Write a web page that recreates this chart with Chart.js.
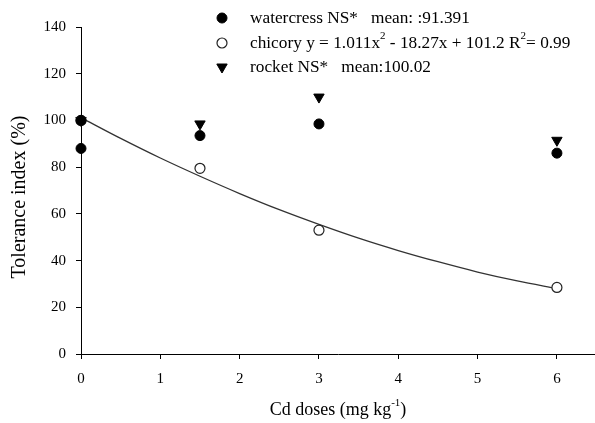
<!DOCTYPE html>
<html>
<head>
<meta charset="utf-8">
<script src="https://cdn.jsdelivr.net/npm/chart.js@4.4.1/dist/chart.umd.min.js"></script>
<style>
  html, body { margin: 0; padding: 0; background: #fff; }
  #wrap { width: 595px; height: 423px; }
</style>
</head>
<body>
<div id="wrap"><canvas id="c" width="595" height="423"></canvas></div>
<script>
// ---- data ----
const doses = [0, 1.5, 3, 6];
const watercressX = [0, 0, 1.5, 3, 6];
const watercressY = [100, 88, 93.5, 98.5, 86];
const chicoryY = [100, 79.5, 53, 28.5];
const rocketY = [100, 98.5, 110, 91.5];
const fitX = [0, 0.5, 1, 1.5, 2, 2.5, 3, 3.5, 4, 4.5, 5, 5.5, 6];
const fitY = [101.2, 92.3, 83.9, 76.1, 68.7, 61.8, 55.5, 49.6, 44.3, 39.5, 35.1, 31.3, 28.0];
const xTicks = [0, 1, 2, 3, 4, 5, 6];
const yTicks = [0, 20, 40, 60, 80, 100, 120, 140];
const legendLabels = [
  'watercress NS*   mean: :91.391',
  'chicory y = 1.011x² - 18.27x + 101.2 R²= 0.99',
  'rocket NS*   mean:100.02'
];
const xTitle = 'Cd doses (mg kg⁻¹)';
const yTitle = 'Tolerance index (%)';

const SERIF = '"Liberation Serif", "Times New Roman", serif';
const pts = (xs, ys) => xs.map((x, i) => ({ x: x, y: ys[i] }));

const styles = [
  { pointStyle: 'circle', radius: 5, backgroundColor: '#000', borderColor: '#000', borderWidth: 1, rotation: 0 },
  { pointStyle: 'circle', radius: 5, backgroundColor: '#fff', borderColor: '#222', borderWidth: 1.2, rotation: 0 },
  { pointStyle: 'triangle', radius: 6, backgroundColor: '#000', borderColor: '#000', borderWidth: 1, rotation: 180 }
];

const supMap = { '²': '2', '⁻': '-', '¹': '1' };
function drawRich(ctx, text, x, y, size) {
  let cx = x;
  let i = 0;
  while (i < text.length) {
    if (supMap[text[i]] !== undefined) {
      let s = '';
      while (i < text.length && supMap[text[i]] !== undefined) { s += supMap[text[i]]; i++; }
      ctx.font = Math.round(size * 0.62) + 'px ' + SERIF;
      ctx.fillText(s, cx, y - size * 0.38);
      cx += ctx.measureText(s).width;
    } else {
      let s = '';
      while (i < text.length && supMap[text[i]] === undefined) { s += text[i]; i++; }
      ctx.font = size + 'px ' + SERIF;
      ctx.fillText(s, cx, y);
      cx += ctx.measureText(s).width;
    }
  }
  return cx - x;
}
function richWidth(ctx, text, size) {
  let w = 0;
  for (const ch of text) {
    if (supMap[ch] !== undefined) { ctx.font = Math.round(size * 0.62) + 'px ' + SERIF; w += ctx.measureText(supMap[ch]).width; }
    else { ctx.font = size + 'px ' + SERIF; w += ctx.measureText(ch).width; }
  }
  return w;
}

const textPlugin = {
  id: 'textPlugin',
  afterDraw(chart) {
    const ctx = chart.ctx;
    const area = chart.chartArea;
    ctx.save();
    ctx.textBaseline = 'middle';
    ctx.textAlign = 'left';
    // legend
    const lx = 222, tx = 250, ly = [18, 43, 67];
    legendLabels.forEach((lab, i) => {
      const st = styles[i];
      ctx.fillStyle = st.backgroundColor;
      ctx.strokeStyle = st.borderColor;
      ctx.lineWidth = st.borderWidth;
      Chart.helpers.drawPoint(ctx, st, lx, ly[i]);
      ctx.fillStyle = '#000';
      drawRich(ctx, lab, tx, ly[i], 17.3);
    });
    // x title
    const xs = 18;
    const w = richWidth(ctx, xTitle, xs);
    ctx.fillStyle = '#000';
    drawRich(ctx, xTitle, (area.left + area.right) / 2 - w / 2, 410, xs);
    // y title
    ctx.translate(20, 197);
    ctx.rotate(-Math.PI / 2);
    ctx.textAlign = 'center';
    ctx.font = '20px ' + SERIF;
    ctx.fillText(yTitle, 0, 0);
    ctx.restore();
  }
};

const axisCommon = {
  grid: { display: true, drawOnChartArea: false, drawTicks: true, tickLength: 5, color: '#000', lineWidth: 1 },
  border: { display: true, color: '#000', width: 1 },
};

new Chart(document.getElementById('c'), {
  type: 'scatter',
  data: {
    datasets: [
      { label: 'watercress', data: pts(watercressX, watercressY), pointStyle: styles[0].pointStyle, pointRadius: styles[0].radius,
        pointBackgroundColor: styles[0].backgroundColor, pointBorderColor: styles[0].borderColor, pointBorderWidth: styles[0].borderWidth, showLine: false, clip: false },
      { label: 'chicory', data: pts(doses, chicoryY), pointStyle: styles[1].pointStyle, pointRadius: styles[1].radius,
        pointBackgroundColor: styles[1].backgroundColor, pointBorderColor: styles[1].borderColor, pointBorderWidth: styles[1].borderWidth, showLine: false, clip: false },
      { label: 'rocket', data: pts(doses, rocketY), pointStyle: styles[2].pointStyle, pointRadius: styles[2].radius, pointRotation: 180,
        pointBackgroundColor: styles[2].backgroundColor, pointBorderColor: styles[2].borderColor, pointBorderWidth: styles[2].borderWidth, showLine: false, clip: false },
      { label: 'fit', data: pts(fitX, fitY), showLine: true, pointRadius: 0, borderColor: '#333', borderWidth: 1.3,
        cubicInterpolationMode: 'monotone', fill: false, clip: false }
    ]
  },
  options: {
    responsive: false,
    animation: false,
    devicePixelRatio: 1,
    layout: { autoPadding: false, padding: { top: 27, right: 0, left: 0, bottom: 0 } },
    plugins: { legend: { display: false }, tooltip: { enabled: false } },
    scales: {
      x: Object.assign({}, axisCommon, {
        type: 'linear', min: 0, max: 6.48,
        afterBuildTicks(scale) { scale.ticks = xTicks.map(v => ({ value: v })); },
        afterFit(scale) { scale.height = 69; scale.paddingRight = 0; scale.paddingLeft = 0; },
        ticks: { color: '#000', font: { family: SERIF, size: 15 }, padding: 11, maxRotation: 0, autoSkip: false }
      }),
      y: Object.assign({}, axisCommon, {
        type: 'linear', min: 0, max: 140,
        afterBuildTicks(scale) { scale.ticks = yTicks.map(v => ({ value: v })); },
        afterFit(scale) { scale.width = 81; scale.paddingTop = 0; scale.paddingBottom = 0; },
        ticks: { color: '#000', font: { family: SERIF, size: 15 }, padding: 10 }
      })
    }
  },
  plugins: [textPlugin]
});
</script>
</body>
</html>
